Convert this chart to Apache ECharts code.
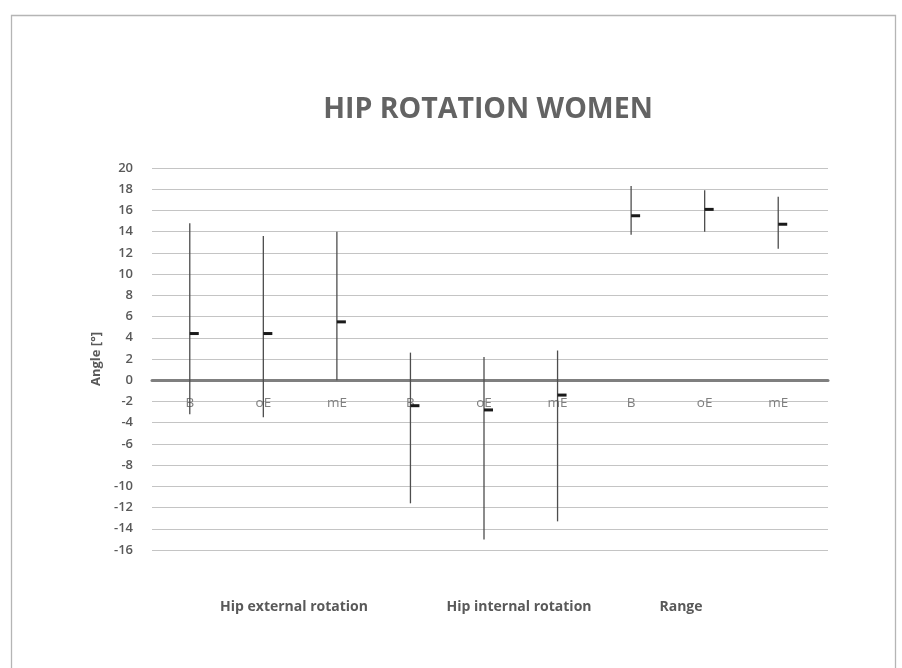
<!DOCTYPE html>
<html>
<head>
<meta charset="utf-8">
<script src="https://cdn.jsdelivr.net/npm/echarts@6/dist/echarts.min.js"></script>
<style>html,body{margin:0;padding:0;background:#fff}#c{width:902px;height:668px}</style>
</head>
<body>
<div id="c"></div>
<script>
const categories = ['B','oE','mE','B','oE','mE','B','oE','mE'];
const groupLabels = ['Hip external rotation','Hip internal rotation','Range'];
const highValues = [14.8, 13.6, 14.0, 2.6, 2.2, 2.8, 18.3, 17.9, 17.3];
const lowValues  = [-3.2, -3.5, 0.0, -11.6, -15.0, -13.3, 13.7, 14.0, 12.4];
const meanValues = [4.4, 4.4, 5.5, -2.4, -2.8, -1.4, 15.5, 16.1, 14.7];
const yTicks = [-16,-14,-12,-10,-8,-6,-4,-2,0,2,4,6,8,10,12,14,16,18,20];

const data = categories.map((c,i)=>[i, lowValues[i], highValues[i], meanValues[i]]);
const font = '"Open Sans", "Segoe UI", sans-serif';
const groupX = [294, 519, 681];

const chart = echarts.init(document.getElementById('c'));
chart.setOption({
  animation: false,
  title: {
    text: 'HIP ROTATION WOMEN', left: 483, top: 90, textAlign: 'center',
    textStyle: {fontFamily: font, fontSize: 28.5, fontWeight: 'bold', color: '#636363'}
  },
  grid: [
    {left: 152, right: 74, top: 168, bottom: 118},
    {left: 153, right: 87, top: 168, bottom: 118}
  ],
  xAxis: [
    {gridIndex: 0, type: 'category', data: categories, show: true,
     axisLine: {onZero: true, lineStyle: {color: '#7f7f7f', width: 3}},
     axisTick: {show: false}, axisLabel: {show: false}, splitLine: {show: false}},
    {gridIndex: 1, type: 'category', data: categories, offset: -169.5,
     axisLine: {show: false, onZero: false}, axisTick: {show: false},
     axisLabel: {margin: 15.5, fontFamily: font, fontSize: 13.5, color: '#7f7f7f'}}
  ],
  yAxis: [
    {gridIndex: 0, type: 'value', min: yTicks[0], max: yTicks[yTicks.length-1], interval: 2,
     name: 'Angle [°]', nameLocation: 'middle', nameGap: 43, nameRotate: 90,
     nameTextStyle: {fontFamily: font, fontSize: 13, fontWeight: 'bold', color: '#595959'},
     axisLine: {show: false}, axisTick: {show: false},
     axisLabel: {margin: 19, fontFamily: font, fontSize: 13, fontWeight: 600, color: '#595959'},
     splitLine: {lineStyle: {color: '#c4c4c4', width: 1.2}}},
    {gridIndex: 1, type: 'value', min: yTicks[0], max: yTicks[yTicks.length-1], interval: 2,
     show: false, splitLine: {show: false}}
  ],
  series: [{
    type: 'custom', xAxisIndex: 1, yAxisIndex: 1, data: data,
    encode: {x: 0, y: [1,2,3]},
    renderItem: function(params, api){
      const x = api.value(0);
      const lo = api.coord([x, api.value(1)]);
      const hi = api.coord([x, api.value(2)]);
      const mn = api.coord([x, api.value(3)]);
      return {type: 'group', children: [
        {type: 'line', shape: {x1: lo[0], y1: lo[1], x2: hi[0], y2: hi[1]},
         style: {stroke: '#4d4d4d', lineWidth: 1.3}},
        {type: 'rect', shape: {x: mn[0], y: mn[1]-1.5, width: 9, height: 3},
         style: {fill: '#1a1a1a'}}
      ]};
    }
  }],
  graphic: [
    {type: 'rect', left: 9, top: 13, shape: {width: 884, height: 700},
     style: {fill: 'none', stroke: '#b5b5b5', lineWidth: 1.3}, silent: true}
  ].concat(groupLabels.map((t,i)=>({
    type: 'text', x: groupX[i], y: 607,
    style: {text: t, fontFamily: font, fontSize: 14, fontWeight: 'bold', fill: '#595959', textAlign: 'center', textVerticalAlign: 'middle'}
  })))
});
</script>
</body>
</html>
